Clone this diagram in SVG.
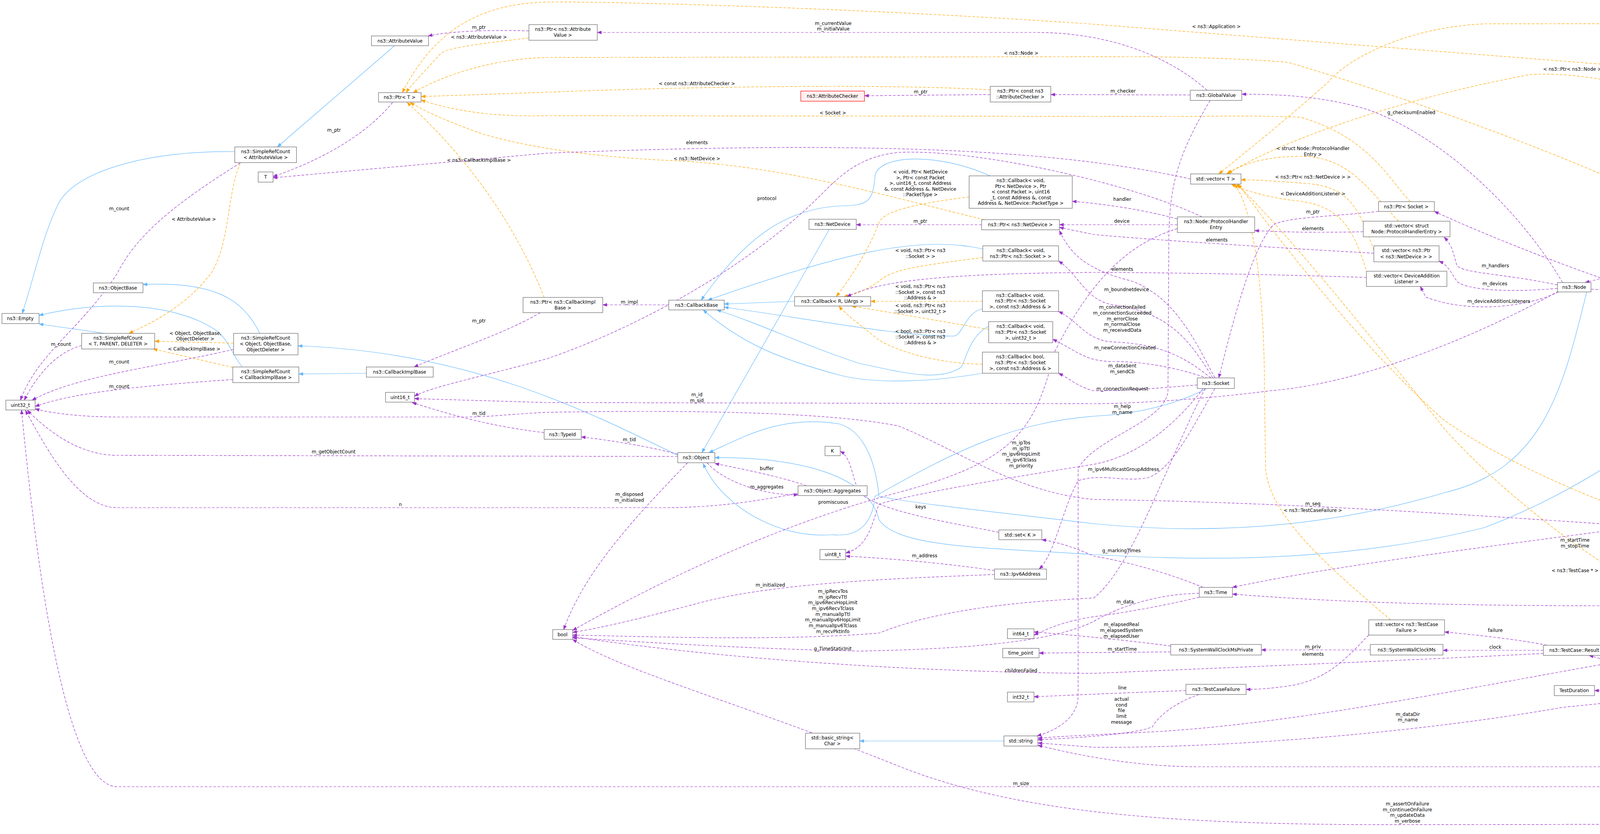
<svg xmlns="http://www.w3.org/2000/svg" width="5516" height="2134" viewBox="0 0 5516 2134">
<style>
text{font-family:"DejaVu Sans","Liberation Sans",sans-serif;font-size:12px;fill:#000;text-anchor:middle}
.n rect{fill:#fff;stroke:#666;stroke-width:1.2}
.red rect{fill:#fff0f0;stroke:#f00}
.cur rect{fill:#999;stroke:#666}
.p{fill:none;stroke:#9a32cd;stroke-width:1.2;stroke-dasharray:7,4;marker-end:url(#mp)}
.o{fill:none;stroke:#ffa500;stroke-width:1.2;stroke-dasharray:7,4;marker-end:url(#mo)}
.b{fill:none;stroke:#63b8ff;stroke-width:1.2;marker-end:url(#mb)}
</style>
<defs>
<marker id="mp" markerWidth="12" markerHeight="9" refX="11" refY="4.5" orient="auto" markerUnits="userSpaceOnUse"><path d="M0,0L12,4.5L0,9z" fill="#9a32cd"/></marker>
<marker id="mo" markerWidth="12" markerHeight="9" refX="11" refY="4.5" orient="auto" markerUnits="userSpaceOnUse"><path d="M0,0L12,4.5L0,9z" fill="#ffa500"/></marker>
<marker id="mb" markerWidth="12" markerHeight="9" refX="11" refY="4.5" orient="auto" markerUnits="userSpaceOnUse"><path d="M0,0L12,4.5L0,9z" fill="#63b8ff"/></marker>
</defs>
<rect width="5516" height="2134" fill="#fff"/>
<g id="edges">
<!-- blue inheritance -->
<path class="b" d="M1010,117 L710,376"/>
<path class="b" d="M601,388 C400,385 200,430 150,520 C110,600 90,700 57,802"/>
<path class="b" d="M268,853 L100,829"/>
<path class="b" d="M665,853 C620,760 540,720 366,728"/>
<path class="b" d="M620,939 C590,900 590,880 560,850 C450,770 250,770 100,807"/>
<path class="b" d="M938,955 L765,957"/>
<path class="b" d="M1735,1165 C1500,1050 1200,900 763,885"/>
<path class="b" d="M2123,587 L1797,1158"/>
<path class="b" d="M2034,771 L1854,778"/>
<path class="b" d="M2535,450 C2400,390 2250,395 2240,450 C2235,520 2220,525 2150,527 C2000,535 1900,620 1795,768"/>
<path class="b" d="M2516,637 C2350,600 2150,650 1812,768"/>
<path class="b" d="M2515,790 C2470,800 2465,860 2440,860 C2300,860 2100,820 1854,786"/>
<path class="b" d="M2531,835 C2480,860 2470,930 2460,940 C2400,980 2300,950 2200,930 C2050,880 1950,830 1835,793"/>
<path class="b" d="M2515,955 C2400,975 2250,985 2150,960 C2000,920 1900,880 1800,793"/>
<path class="b" d="M3090,994 C3000,1040 2900,1060 2800,1065 C2600,1080 2450,1150 2240,1270 C2230,1380 2150,1370 2130,1368 C2000,1380 1850,1300 1800,1186"/>
<path class="b" d="M4062,747 C4000,1000 3950,1200 3700,1260 C3400,1350 3100,1370 2800,1340 C2550,1310 2350,1290 2250,1270 C2240,1160 2200,1100 2150,1085 C2000,1060 1900,1120 1815,1158"/>
<path class="b" d="M4700,686 C4500,900 4200,1200 3800,1350 C3400,1450 3000,1430 2800,1419 C2500,1400 2300,1400 2250,1330 C2220,1200 2000,1170 1830,1171"/>
<path class="b" d="M2570,1896 L2201,1896"/>
<path class="b" d="M5414,1524 C5330,1640 5050,1700 4780,1665 C4600,1645 4480,1710 4418,1753"/>
<path class="b" d="M4670,1855 C4560,1840 4480,1810 4410,1779"/>
<path class="b" d="M5360,1897 L5225,1873"/>
<!-- orange template -->
<path class="o" d="M615,417 C580,500 590,620 540,700 C470,790 380,830 330,853"/>
<path class="o" d="M598,878 L396,873"/>
<path class="o" d="M596,940 L392,893"/>
<path class="o" d="M1354,97 C1250,110 1140,120 1125,140 C1090,180 1050,220 1040,237"/>
<path class="o" d="M2535,230 C2300,215 1800,220 1400,236 L1078,247"/>
<path class="o" d="M2520,562 C2300,510 2000,420 1700,410 C1500,400 1300,370 1200,330 C1120,300 1080,280 1050,262"/>
<path class="o" d="M1393,761 C1350,650 1250,450 1042,262"/>
<path class="o" d="M5060,339 C4700,250 4400,200 4200,172 L2800,62 C2200,20 1600,5 1420,5 C1250,5 1120,60 1030,237"/>
<path class="o" d="M4357,607 C4300,520 4200,460 4100,446 C3900,360 3600,250 3300,160 C3200,150 3000,145 2900,145 L1400,147 C1250,150 1120,200 1058,237"/>
<path class="o" d="M3610,516 C3550,450 3500,350 3330,300 C3200,295 3100,298 3000,298 L1400,296 C1250,300 1150,280 1078,256"/>
<path class="o" d="M5450,332 C5400,200 5300,70 5150,59 L3800,61 C3600,70 3450,150 3400,210 C3300,300 3200,380 3120,445"/>
<path class="o" d="M4705,593 C4600,450 4400,300 4200,223 C4100,200 4000,185 3916,191 C3600,250 3300,350 3140,445"/>
<path class="o" d="M3580,566 C3500,480 3450,400 3330,400 C3220,400 3160,430 3145,445"/>
<path class="o" d="M3517,640 C3480,540 3460,480 3350,470 C3250,462 3200,460 3177,460"/>
<path class="o" d="M3500,700 C3470,600 3440,530 3330,515 C3230,505 3170,480 3152,471"/>
<path class="o" d="M3560,1586 C3400,1450 3250,1320 3240,1200 L3237,1000 C3237,700 3200,520 3160,471"/>
<path class="o" d="M4660,1745 C4400,1620 4000,1430 3700,1100 C3500,850 3300,600 3166,471"/>
<path class="o" d="M5094,1732 C4800,1550 4400,1330 4200,1318 C4000,1250 3800,1150 3693,1072 C3500,900 3300,650 3170,471"/>
<path class="o" d="M2481,504 C2350,520 2260,540 2250,570 C2220,650 2170,720 2141,759"/>
<path class="o" d="M2516,659 C2350,680 2280,690 2250,720 C2220,740 2200,750 2160,759"/>
<path class="o" d="M2515,771 L2229,771"/>
<path class="o" d="M2531,843 C2400,820 2280,800 2180,783"/>
<path class="o" d="M2515,932 C2400,930 2300,900 2250,870 C2200,830 2160,800 2148,783"/>
<path class="o" d="M5093,1834 C5060,1780 5030,1720 4950,1708 C4880,1700 4840,1705 4802,1708"/>
<!-- purple usage -->
<path class="p" d="M1354,79 C1250,76 1150,80 1096,92"/>
<path class="p" d="M1005,262 C950,330 850,400 699,452"/>
<path class="p" d="M3048,458 C2700,380 2200,360 1400,392 L699,455"/>
<path class="p" d="M615,417 C450,520 350,600 300,700 C200,850 100,900 52,1024"/>
<path class="p" d="M209,884 C150,900 100,950 62,1024"/>
<path class="p" d="M598,894 C400,940 200,960 82,1024"/>
<path class="p" d="M596,971 C400,985 200,1000 90,1040"/>
<path class="p" d="M1383,800 C1300,850 1150,900 1060,939"/>
<path class="p" d="M1712,780 L1543,780"/>
<path class="p" d="M2535,242 L2213,245"/>
<path class="p" d="M3047,243 L2690,242"/>
<path class="p" d="M3090,231 C3000,150 2850,83 2650,83 L1529,83"/>
<path class="p" d="M2513,575 L2192,575"/>
<path class="p" d="M3014,560 C2900,530 2800,520 2745,515"/>
<path class="p" d="M3014,575 L2712,575"/>
<path class="p" d="M3077,555 C2900,470 2500,380 2300,390 C2200,400 2150,450 2100,500 C1900,700 1600,850 1400,918 C1250,960 1100,990 1061,1014"/>
<path class="p" d="M3490,593 C3400,595 3300,595 3212,590"/>
<path class="p" d="M3517,648 C3200,630 2900,610 2800,600 L2712,582"/>
<path class="p" d="M3498,710 C3200,700 2900,697 2800,697 C2400,700 2250,720 2168,759"/>
<path class="p" d="M3987,729 C3850,700 3750,700 3730,680 C3720,650 3720,630 3697,607"/>
<path class="p" d="M3987,738 C3850,750 3750,740 3730,720 C3715,700 3710,680 3684,668"/>
<path class="p" d="M3990,747 C3900,790 3750,800 3650,760 L3636,733"/>
<path class="p" d="M4000,723 C3900,550 3700,350 3500,280 C3400,250 3300,241 3179,241"/>
<path class="p" d="M4073,740 C4500,760 5000,760 5220,650 C5350,560 5420,450 5452,372"/>
<path class="p" d="M4663,662 C4600,650 4520,640 4465,632"/>
<path class="p" d="M4649,615 L4465,617"/>
<path class="p" d="M5049,640 C4950,630 4880,625 4804,620"/>
<path class="p" d="M5116,365 C5080,500 5060,600 5000,660 C4950,695 4850,695 4789,686"/>
<path class="p" d="M5339,352 L5226,352"/>
<path class="p" d="M4335,633 C4250,670 4150,700 4058,723"/>
<path class="p" d="M3529,541 C3400,555 3300,555 3260,575 C3200,640 3150,850 3120,967"/>
<path class="p" d="M5376,1498 C5370,1200 5360,850 5165,662"/>
<path class="p" d="M5383,1499 C5200,1300 4900,1150 4705,1000 C4500,880 4300,780 4200,746 C4000,680 3800,600 3672,541"/>
<path class="p" d="M4720,686 C4650,720 4610,740 4601,759 C4560,850 4530,950 4488,1000 C4350,1200 4250,1330 4100,1360 C3800,1400 3400,1450 3155,1503"/>
<path class="p" d="M5348,1516 C5000,1525 4600,1540 4100,1550 C3700,1550 3400,1540 3155,1520"/>
<path class="p" d="M5348,1506 C5280,1500 5200,1490 5157,1486"/>
<path class="p" d="M5400,1897 C5330,1860 5250,1800 5155,1759"/>
<path class="p" d="M5423,1524 C5415,1700 5300,1830 5150,1820 C4950,1790 4850,1820 4841,1890 C4830,1960 4700,2013 4500,2013 L300,2013 C150,2013 80,1300 55,1049"/>
<path class="p" d="M5380,1923 C5300,1950 5200,1962 5140,1962 L3070,1962 C2900,1962 2750,1930 2657,1907"/>
<path class="p" d="M5410,1923 C5380,2000 5300,2108 5150,2108 L3600,2110 C3000,2112 2600,2080 2300,1960 C1900,1800 1600,1720 1466,1636"/>
<path class="p" d="M4437,1775 C4600,1800 4800,1850 4950,1880 C5100,1900 5250,1908 5348,1910"/>
<path class="p" d="M4437,1768 L4616,1764"/>
<path class="p" d="M4616,1752 C4550,1752 4480,1756 4437,1758"/>
<path class="p" d="M4372,1754 C4358,1722 4420,1722 4406,1752"/>
<path class="p" d="M4327,1767 L4082,1767"/>
<path class="p" d="M4327,1757 C4250,1730 4150,1700 4068,1677"/>
<path class="p" d="M4327,1775 C4200,1790 4100,1800 4000,1810 C3600,1880 3100,1915 2800,1912 L2657,1901"/>
<path class="p" d="M5348,1520 C5000,1580 4500,1660 4200,1683 C3800,1750 3300,1860 2900,1875 C2800,1880 2700,1885 2657,1889"/>
<path class="p" d="M5029,1751 C4900,1760 4800,1790 4745,1848"/>
<path class="p" d="M4670,1870 C4600,1880 4500,1880 4408,1880"/>
<path class="p" d="M3960,1651 C3880,1635 3780,1625 3698,1617"/>
<path class="p" d="M3951,1664 L3694,1664"/>
<path class="p" d="M3508,1663 L3229,1663"/>
<path class="p" d="M3504,1625 C3450,1680 3400,1740 3300,1755 C3250,1762 3220,1764 3190,1764"/>
<path class="p" d="M3951,1672 C3600,1690 3100,1710 2800,1723 C2300,1720 1800,1680 1466,1629"/>
<path class="p" d="M3036,1767 C2900,1772 2750,1778 2647,1783"/>
<path class="p" d="M3070,1777 C3000,1800 2960,1840 2950,1860 C2900,1880 2750,1888 2657,1893"/>
<path class="p" d="M2997,1653 C2900,1640 2750,1625 2647,1617"/>
<path class="p" d="M2997,1668 L2660,1671"/>
<path class="p" d="M3070,1528 C3000,1545 2900,1565 2800,1578 C2720,1590 2680,1610 2647,1625"/>
<path class="p" d="M3070,1518 C2950,1520 2850,1560 2800,1590 C2700,1640 2500,1660 2200,1666 C1900,1660 1600,1640 1466,1632"/>
<path class="p" d="M3080,1503 C3000,1470 2900,1440 2800,1423 C2750,1400 2700,1385 2667,1381"/>
<path class="p" d="M2557,1362 C2450,1340 2250,1310 2200,1260 C2180,1220 2180,1170 2151,1155"/>
<path class="p" d="M2546,1460 C2450,1445 2300,1430 2165,1423"/>
<path class="p" d="M2546,1470 C2300,1480 2000,1490 1800,1540 C1650,1580 1550,1605 1466,1618"/>
<path class="p" d="M3110,994 C3050,1100 3000,1200 2940,1222 C2880,1235 2820,1210 2760,1230 C2720,1300 2700,1420 2660,1456"/>
<path class="p" d="M3080,994 C3000,1100 2900,1170 2800,1188 C2600,1220 2350,1260 2250,1290 C2230,1350 2220,1400 2165,1415"/>
<path class="p" d="M3085,994 C2980,1200 2900,1450 2800,1530 C2600,1540 2400,1560 2250,1620 C2000,1640 1700,1630 1466,1625"/>
<path class="p" d="M3014,585 C2900,620 2800,700 2700,900 C2650,1100 2600,1180 2300,1260 C2000,1340 1700,1480 1466,1613"/>
<path class="p" d="M1760,1184 C1650,1300 1500,1450 1443,1611"/>
<path class="p" d="M1735,1162 C1650,1140 1550,1125 1488,1118"/>
<path class="p" d="M1810,1184 C1850,1230 1950,1268 2043,1266"/>
<path class="p" d="M2065,1243 C2000,1220 1900,1200 1830,1186"/>
<path class="p" d="M1393,1107 C1250,1090 1150,1060 1055,1030"/>
<path class="p" d="M1735,1168 L300,1165 C200,1165 120,1100 70,1050"/>
<path class="p" d="M2043,1262 C1900,1290 1800,1299 1700,1299 L300,1299 C200,1299 120,1150 65,1050"/>
<path class="p" d="M3990,745 C3800,850 3500,980 3250,1000 C3100,1020 2900,1033 2800,1033 L1400,1030 L1061,1020"/>
<path class="p" d="M5380,1498 C5200,1440 4600,1360 4200,1347 C3800,1320 3300,1285 2800,1278 C2600,1260 2450,1150 2300,1090 C2100,1050 1700,1050 1400,1055 C1300,1060 1250,1067 1200,1067 L300,1067 C200,1067 120,1055 90,1046"/>
<path class="p" d="M3098,257 C3000,420 2992,500 2992,650 L2990,1000 C2985,1080 2800,1120 2760,1200 L2760,1780 C2760,1840 2700,1870 2655,1883"/>
<path class="p" d="M3110,967 C3050,850 3000,760 2900,720 C2780,690 2740,650 2712,590"/>
<path class="p" d="M3105,967 C3050,880 3000,800 2850,780 C2780,770 2760,700 2710,668"/>
<path class="p" d="M3100,967 C3040,920 2980,880 2850,875 C2780,872 2760,820 2710,797"/>
<path class="p" d="M3092,968 C3040,950 2950,925 2850,925 C2780,925 2760,900 2695,868"/>
<path class="p" d="M3065,985 C3000,990 2900,1000 2800,1000 C2760,990 2740,970 2710,955"/>
</g>
<g id="edge-labels">
<text x="1226" y="74">m_ptr</text>
<text x="1226" y="99">&lt; ns3::AttributeValue &gt;</text>
<text x="855" y="337">m_ptr</text>
<text x="1226" y="414">&lt; ns3::CallbackImplBase &gt;</text>
<text x="305" y="538">m_count</text>
<text x="496" y="565">&lt; AttributeValue &gt;</text>
<text x="156" y="885">m_count</text>
<text x="500" y="857">&lt; Object, ObjectBase,</text>
<text x="500" y="871">ObjectDeleter &gt;</text>
<text x="497" y="897">&lt; CallbackImplBase &gt;</text>
<text x="305" y="930">m_count</text>
<text x="305" y="993">m_count</text>
<text x="1226" y="825">m_ptr</text>
<text x="1611" y="777">m_impl</text>
<text x="2133" y="64">m_currentValue</text>
<text x="2133" y="78">m_initialValue</text>
<text x="2614" y="140">&lt; ns3::Node &gt;</text>
<text x="1784" y="218">&lt; const ns3::AttributeChecker &gt;</text>
<text x="2357" y="239">m_ptr</text>
<text x="2132" y="293">&lt; Socket &gt;</text>
<text x="1784" y="369">elements</text>
<text x="1784" y="410">&lt; ns3::NetDevice &gt;</text>
<text x="1963" y="512">protocol</text>
<text x="2356" y="444">&lt; void, Ptr&lt; NetDevice</text>
<text x="2356" y="459">&gt;, Ptr&lt; const Packet</text>
<text x="2356" y="473">&gt;, uint16_t, const Address</text>
<text x="2356" y="488">&amp;, const Address &amp;, NetDevice</text>
<text x="2356" y="502">::PacketType &gt;</text>
<text x="2356" y="645">&lt; void, ns3::Ptr&lt; ns3</text>
<text x="2356" y="660">::Socket &gt; &gt;</text>
<text x="2356" y="737">&lt; void, ns3::Ptr&lt; ns3</text>
<text x="2356" y="752">::Socket &gt;, const ns3</text>
<text x="2356" y="766">::Address &amp; &gt;</text>
<text x="2356" y="786">&lt; void, ns3::Ptr&lt; ns3</text>
<text x="2356" y="801">::Socket &gt;, uint32_t &gt;</text>
<text x="2356" y="852">&lt; bool, ns3::Ptr&lt; ns3</text>
<text x="2356" y="866">::Socket &gt;, const ns3</text>
<text x="2356" y="881">::Address &amp; &gt;</text>
<text x="2356" y="570">m_ptr</text>
<text x="3114" y="72">&lt; ns3::Application &gt;</text>
<text x="2875" y="237">m_checker</text>
<text x="4032" y="181">&lt; ns3::Ptr&lt; ns3::Node &gt; &gt;</text>
<text x="4380" y="55">&lt; ns3::Ptr&lt; ns3::Application &gt; &gt;</text>
<text x="3613" y="292">g_checksumEnabled</text>
<text x="3361" y="384">&lt; struct Node::ProtocolHandler</text>
<text x="3361" y="399">Entry &gt;</text>
<text x="3361" y="457">&lt; ns3::Ptr&lt; ns3::NetDevice &gt; &gt;</text>
<text x="3361" y="500">&lt; DeviceAdditionListener &gt;</text>
<text x="2873" y="514">handler</text>
<text x="2872" y="570">device</text>
<text x="3361" y="546">m_ptr</text>
<text x="3361" y="589">elements</text>
<text x="3115" y="618">elements</text>
<text x="2873" y="693">elements</text>
<text x="3828" y="684">m_handlers</text>
<text x="3827" y="730">m_devices</text>
<text x="3837" y="775">m_deviceAdditionListeners</text>
<text x="2884" y="745">m_boundnetdevice</text>
<text x="2873" y="790">m_connectionFailed</text>
<text x="2873" y="805">m_connectionSucceeded</text>
<text x="2873" y="820">m_errorClose</text>
<text x="2873" y="834">m_normalClose</text>
<text x="2873" y="849">m_receivedData</text>
<text x="2880" y="894">m_newConnectionCreated</text>
<text x="2873" y="940">m_dataSent</text>
<text x="2873" y="955">m_sendCb</text>
<text x="2873" y="999">m_connectionRequest</text>
<text x="4555" y="613">elements</text>
<text x="4555" y="638">m_node</text>
<text x="4931" y="621">m_nodes</text>
<text x="4931" y="653">m_ptr</text>
<text x="5286" y="347">elements</text>
<text x="4198" y="661">m_ptr</text>
<text x="4728" y="746">m_applications</text>
<text x="4556" y="899">m_socket</text>
<text x="5285" y="713">m_nodes</text>
<text x="1226" y="1062">m_tid</text>
<text x="854" y="1160">m_getObjectCount</text>
<text x="1025" y="1295">n</text>
<text x="1784" y="1014">m_id</text>
<text x="1784" y="1029">m_sid</text>
<text x="1611" y="1129">m_tid</text>
<text x="1611" y="1269">m_disposed</text>
<text x="1611" y="1284">m_initialized</text>
<text x="1963" y="1203">buffer</text>
<text x="1963" y="1250">m_aggregates</text>
<text x="2133" y="1289">promiscuous</text>
<text x="2357" y="1301">keys</text>
<text x="2614" y="1137">m_ipTos</text>
<text x="2614" y="1152">m_ipTtl</text>
<text x="2614" y="1166">m_ipv6HopLimit</text>
<text x="2614" y="1181">m_ipv6Tclass</text>
<text x="2614" y="1196">m_priority</text>
<text x="2367" y="1426">m_address</text>
<text x="1972" y="1501">m_initialized</text>
<text x="2132" y="1517">m_ipRecvTos</text>
<text x="2132" y="1532">m_ipRecvTtl</text>
<text x="2132" y="1546">m_ipv6RecvHopLimit</text>
<text x="2132" y="1561">m_ipv6RecvTclass</text>
<text x="2132" y="1576">m_manualIpTtl</text>
<text x="2132" y="1590">m_manualIpv6HopLimit</text>
<text x="2132" y="1605">m_manualIpv6Tclass</text>
<text x="2132" y="1620">m_recvPktInfo</text>
<text x="2132" y="1664">g_TimeStaticInit</text>
<text x="2614" y="1720">childrenFailed</text>
<text x="2614" y="2009">m_size</text>
<text x="2873" y="1044">m_help</text>
<text x="2873" y="1059">m_name</text>
<text x="2876" y="1205">m_ipv6MulticastGroupAddress</text>
<text x="3361" y="1293">m_seq</text>
<text x="3361" y="1310">&lt; ns3::TestCaseFailure &gt;</text>
<text x="4032" y="1386">m_startTime</text>
<text x="4032" y="1401">m_stopTime</text>
<text x="2871" y="1413">g_markingTimes</text>
<text x="4032" y="1464">&lt; ns3::TestCase * &gt;</text>
<text x="2880" y="1544">m_data</text>
<text x="2871" y="1602">m_elapsedReal</text>
<text x="2871" y="1617">m_elapsedSystem</text>
<text x="2871" y="1632">m_elapsedUser</text>
<text x="2873" y="1665">m_startTime</text>
<text x="3828" y="1617">failure</text>
<text x="3361" y="1659">m_priv</text>
<text x="3828" y="1660">clock</text>
<text x="3361" y="1678">elements</text>
<text x="2873" y="1764">line</text>
<text x="2871" y="1793">actual</text>
<text x="2871" y="1808">cond</text>
<text x="2871" y="1822">file</text>
<text x="2871" y="1837">limit</text>
<text x="2871" y="1852">message</text>
<text x="3604" y="1832">m_dataDir</text>
<text x="3604" y="1846">m_name</text>
<text x="3603" y="2061">m_assertOnFailure</text>
<text x="3603" y="2076">m_continueOnFailure</text>
<text x="3603" y="2090">m_updateData</text>
<text x="3603" y="2105">m_verbose</text>
<text x="4199" y="1288">&lt; TestSuite * &gt;</text>
<text x="5285" y="1493">m_step</text>
<text x="4384" y="1525">m_arpAliveTimeout</text>
<text x="4384" y="1540">m_time</text>
<text x="4199" y="1672">m_prefix</text>
<text x="4199" y="1701">m_result</text>
<text x="4385" y="1726">m_parent</text>
<text x="4556" y="1745">elements</text>
<text x="4555" y="1761">m_children</text>
<text x="4198" y="1762">m_duration</text>
<text x="4931" y="1697">&lt; TestRunnerImpl &gt;</text>
<text x="4931" y="1750">elements</text>
<text x="5284" y="1813">m_suites</text>
<text x="4931" y="1838">m_runner</text>
<text x="4555" y="1873">m_type</text>
<text x="4199" y="1958">m_tempDir</text>
</g>
<g id="n_AttributeValue" class="n"><rect x="951" y="92" width="146" height="25"/><text x="1024" y="109">ns3::AttributeValue</text></g>
<g id="n_PtrT" class="n"><rect x="969" y="237" width="109" height="24"/><text x="1023" y="253">ns3::Ptr&lt; T &gt;</text></g>
<g id="n_SRC_AV" class="n"><rect x="601" y="376" width="158" height="40"/><text x="680" y="392">ns3::SimpleRefCount</text><text x="680" y="407">&lt; AttributeValue &gt;</text></g>
<g id="n_T" class="n"><rect x="661" y="440" width="38" height="26"/><text x="680" y="457">T</text></g>
<g id="n_ObjectBase" class="n"><rect x="239" y="724" width="127" height="25"/><text x="302" y="741">ns3::ObjectBase</text></g>
<g id="n_Empty" class="n"><rect x="5" y="802" width="95" height="26"/><text x="52" y="819">ns3::Empty</text></g>
<g id="n_SRC_TPD" class="n"><rect x="209" y="853" width="187" height="40"/><text x="302" y="869">ns3::SimpleRefCount</text><text x="302" y="884">&lt; T, PARENT, DELETER &gt;</text></g>
<g id="n_SRC_Obj" class="n"><rect x="598" y="853" width="165" height="55"/><text x="680" y="869">ns3::SimpleRefCount</text><text x="680" y="884">&lt; Object, ObjectBase,</text><text x="680" y="899">ObjectDeleter &gt;</text></g>
<g id="n_SRC_CIB" class="n"><rect x="596" y="939" width="169" height="40"/><text x="680" y="955">ns3::SimpleRefCount</text><text x="680" y="970">&lt; CallbackImplBase &gt;</text></g>
<g id="n_CIB" class="n"><rect x="938" y="939" width="171" height="26"/><text x="1023" y="956">ns3::CallbackImplBase</text></g>
<g id="n_PtrAV" class="n"><rect x="1354" y="63" width="175" height="40"/><text x="1441" y="79">ns3::Ptr&lt; ns3::Attribute</text><text x="1441" y="94">Value &gt;</text></g>
<g id="n_AttrChecker" class="n red"><rect x="2050" y="233" width="163" height="26"/><text x="2131" y="250">ns3::AttributeChecker</text></g>
<g id="n_PtrAC" class="n"><rect x="2535" y="221" width="155" height="40"/><text x="2612" y="237">ns3::Ptr&lt; const ns3</text><text x="2612" y="252">::AttributeChecker &gt;</text></g>
<g id="n_PtrCIB" class="n"><rect x="1339" y="761" width="204" height="39"/><text x="1441" y="777">ns3::Ptr&lt; ns3::CallbackImpl</text><text x="1441" y="792">Base &gt;</text></g>
<g id="n_CallbackBase" class="n"><rect x="1712" y="768" width="142" height="25"/><text x="1783" y="785">ns3::CallbackBase</text></g>
<g id="n_CallbackRU" class="n"><rect x="2034" y="759" width="195" height="24"/><text x="2131" y="775">ns3::Callback&lt; R, UArgs &gt;</text></g>
<g id="n_NetDevice" class="n"><rect x="2071" y="561" width="121" height="26"/><text x="2131" y="578">ns3::NetDevice</text></g>
<g id="n_CbND" class="n"><rect x="2481" y="450" width="264" height="83"/><text x="2613" y="466">ns3::Callback&lt; void,</text><text x="2613" y="481">Ptr&lt; NetDevice &gt;, Ptr</text><text x="2613" y="495">&lt; const Packet &gt;, uint16</text><text x="2613" y="510">_t, const Address &amp;, const</text><text x="2613" y="524">Address &amp;, NetDevice::PacketType &gt;</text></g>
<g id="n_PtrND" class="n"><rect x="2513" y="562" width="199" height="26"/><text x="2612" y="579">ns3::Ptr&lt; ns3::NetDevice &gt;</text></g>
<g id="n_CbS" class="n"><rect x="2516" y="629" width="194" height="39"/><text x="2613" y="645">ns3::Callback&lt; void,</text><text x="2613" y="660">ns3::Ptr&lt; ns3::Socket &gt; &gt;</text></g>
<g id="n_CbSA" class="n"><rect x="2515" y="744" width="195" height="53"/><text x="2612" y="760">ns3::Callback&lt; void,</text><text x="2612" y="774">ns3::Ptr&lt; ns3::Socket</text><text x="2612" y="789">&gt;, const ns3::Address &amp; &gt;</text></g>
<g id="n_CbSU" class="n"><rect x="2531" y="823" width="164" height="54"/><text x="2613" y="839">ns3::Callback&lt; void,</text><text x="2613" y="854">ns3::Ptr&lt; ns3::Socket</text><text x="2613" y="869">&gt;, uint32_t &gt;</text></g>
<g id="n_CbB" class="n"><rect x="2515" y="901" width="195" height="54"/><text x="2612" y="917">ns3::Callback&lt; bool,</text><text x="2612" y="932">ns3::Ptr&lt; ns3::Socket</text><text x="2612" y="947">&gt;, const ns3::Address &amp; &gt;</text></g>
<g id="n_GlobalValue" class="n"><rect x="3047" y="231" width="132" height="26"/><text x="3113" y="248">ns3::GlobalValue</text></g>
<g id="n_VecT" class="n"><rect x="3048" y="445" width="129" height="26"/><text x="3112" y="462">std::vector&lt; T &gt;</text></g>
<g id="n_PHE" class="n"><rect x="3014" y="555" width="198" height="40"/><text x="3113" y="571">ns3::Node::ProtocolHandler</text><text x="3113" y="586">Entry</text></g>
<g id="n_PtrSocket" class="n"><rect x="3529" y="516" width="143" height="25"/><text x="3600" y="533">ns3::Ptr&lt; Socket &gt;</text></g>
<g id="n_VecPHE" class="n"><rect x="3490" y="566" width="222" height="40"/><text x="3601" y="582">std::vector&lt; struct</text><text x="3601" y="597">Node::ProtocolHandlerEntry &gt;</text></g>
<g id="n_VecND" class="n"><rect x="3517" y="629" width="167" height="41"/><text x="3600" y="645">std::vector&lt; ns3::Ptr</text><text x="3600" y="661">&lt; ns3::NetDevice &gt; &gt;</text></g>
<g id="n_VecDAL" class="n"><rect x="3498" y="694" width="206" height="39"/><text x="3601" y="710">std::vector&lt; DeviceAddition</text><text x="3601" y="725">Listener &gt;</text></g>
<g id="n_Node" class="n"><rect x="3987" y="723" width="86" height="24"/><text x="4030" y="739">ns3::Node</text></g>
<g id="n_Socket" class="n"><rect x="3065" y="967" width="95" height="27"/><text x="3112" y="985">ns3::Socket</text></g>
<g id="n_PtrNode" class="n"><rect x="4298" y="607" width="167" height="25"/><text x="4381" y="624">ns3::Ptr&lt; ns3::Node &gt;</text></g>
<g id="n_VecNode" class="n"><rect x="4649" y="593" width="155" height="40"/><text x="4726" y="609">std::vector&lt; ns3::Ptr</text><text x="4726" y="624">&lt; ns3::Node &gt; &gt;</text></g>
<g id="n_Application" class="n red"><rect x="4663" y="659" width="126" height="27"/><text x="4726" y="677">ns3::Application</text></g>
<g id="n_NodeContainer" class="n"><rect x="5049" y="635" width="150" height="25"/><text x="5124" y="652">ns3::NodeContainer</text></g>
<g id="n_PtrApp" class="n"><rect x="5021" y="339" width="205" height="25"/><text x="5123" y="356">ns3::Ptr&lt; ns3::Application &gt;</text></g>
<g id="n_VecApp" class="n"><rect x="5339" y="332" width="171" height="39"/><text x="5424" y="348">std::vector&lt; ns3::Ptr</text><text x="5424" y="363">&lt; ns3::Application &gt; &gt;</text></g>
<g id="n_uint32" class="n"><rect x="15" y="1024" width="75" height="25"/><text x="52" y="1041">uint32_t</text></g>
<g id="n_uint16" class="n"><rect x="987" y="1004" width="74" height="25"/><text x="1024" y="1021">uint16_t</text></g>
<g id="n_TypeId" class="n"><rect x="1393" y="1099" width="95" height="25"/><text x="1440" y="1116">ns3::TypeId</text></g>
<g id="n_Object" class="n"><rect x="1735" y="1158" width="95" height="26"/><text x="1782" y="1175">ns3::Object</text></g>
<g id="n_K" class="n"><rect x="2112" y="1142" width="39" height="24"/><text x="2131" y="1158">K</text></g>
<g id="n_Aggregates" class="n"><rect x="2043" y="1243" width="177" height="25"/><text x="2131" y="1260">ns3::Object::Aggregates</text></g>
<g id="n_SetK" class="n"><rect x="2557" y="1356" width="110" height="25"/><text x="2612" y="1373">std::set&lt; K &gt;</text></g>
<g id="n_uint8" class="n"><rect x="2099" y="1406" width="66" height="26"/><text x="2132" y="1423">uint8_t</text></g>
<g id="n_Ipv6" class="n"><rect x="2546" y="1456" width="133" height="26"/><text x="2612" y="1473">ns3::Ipv6Address</text></g>
<g id="n_bool" class="n"><rect x="1415" y="1611" width="51" height="25"/><text x="1440" y="1628">bool</text></g>
<g id="n_int64" class="n"><rect x="2579" y="1609" width="68" height="25"/><text x="2613" y="1626">int64_t</text></g>
<g id="n_time_point" class="n"><rect x="2567" y="1659" width="93" height="24"/><text x="2613" y="1675">time_point</text></g>
<g id="n_int32" class="n"><rect x="2579" y="1771" width="68" height="25"/><text x="2613" y="1788">int32_t</text></g>
<g id="n_basic_string" class="n"><rect x="2062" y="1876" width="139" height="40"/><text x="2131" y="1892">std::basic_string&lt;</text><text x="2131" y="1907">Char &gt;</text></g>
<g id="n_string" class="n"><rect x="2570" y="1883" width="87" height="26"/><text x="2613" y="1900">std::string</text></g>
<g id="n_Time" class="n"><rect x="3070" y="1503" width="85" height="25"/><text x="3112" y="1520">ns3::Time</text></g>
<g id="n_VecTCF" class="n"><rect x="3504" y="1586" width="194" height="39"/><text x="3601" y="1602">std::vector&lt; ns3::TestCase</text><text x="3601" y="1617">Failure &gt;</text></g>
<g id="n_SWCMP" class="n"><rect x="2997" y="1649" width="232" height="27"/><text x="3113" y="1667">ns3::SystemWallClockMsPrivate</text></g>
<g id="n_SWCM" class="n"><rect x="3508" y="1649" width="186" height="27"/><text x="3601" y="1667">ns3::SystemWallClockMs</text></g>
<g id="n_Result" class="n"><rect x="3951" y="1651" width="159" height="26"/><text x="4030" y="1668">ns3::TestCase::Result</text></g>
<g id="n_TCF" class="n"><rect x="3036" y="1751" width="154" height="26"/><text x="3113" y="1768">ns3::TestCaseFailure</text></g>
<g id="n_TestDuration" class="n"><rect x="3979" y="1754" width="103" height="26"/><text x="4030" y="1771">TestDuration</text></g>
<g id="n_double" class="n"><rect x="5090" y="1473" width="67" height="25"/><text x="5123" y="1490">double</text></g>
<g id="n_ChainRegressionTest" class="n cur"><rect x="5348" y="1498" width="156" height="25"/><text x="5426" y="1515">ChainRegressionTest</text></g>
<g id="n_SingletonT" class="n"><rect x="4651" y="1696" width="151" height="25"/><text x="4726" y="1713">ns3::Singleton&lt; T &gt;</text></g>
<g id="n_TestCase" class="n"><rect x="4327" y="1754" width="110" height="25"/><text x="4382" y="1771">ns3::TestCase</text></g>
<g id="n_VecTC" class="n"><rect x="4616" y="1745" width="220" height="25"/><text x="4726" y="1762">std::vector&lt; ns3::TestCase * &gt;</text></g>
<g id="n_VecTS" class="n"><rect x="5029" y="1732" width="190" height="26"/><text x="5124" y="1749">std::vector&lt; TestSuite * &gt;</text></g>
<g id="n_TestSuite" class="n"><rect x="4670" y="1848" width="112" height="25"/><text x="4726" y="1865">ns3::TestSuite</text></g>
<g id="n_Type" class="n"><rect x="4356" y="1865" width="52" height="26"/><text x="4382" y="1882">Type</text></g>
<g id="n_SingletonTRI" class="n"><rect x="5023" y="1834" width="202" height="39"/><text x="5124" y="1850">ns3::Singleton&lt; TestRunner</text><text x="5124" y="1865">Impl &gt;</text></g>
<g id="n_TestRunnerImpl" class="n"><rect x="5348" y="1897" width="155" height="26"/><text x="5425" y="1914">ns3::TestRunnerImpl</text></g>
</svg>
